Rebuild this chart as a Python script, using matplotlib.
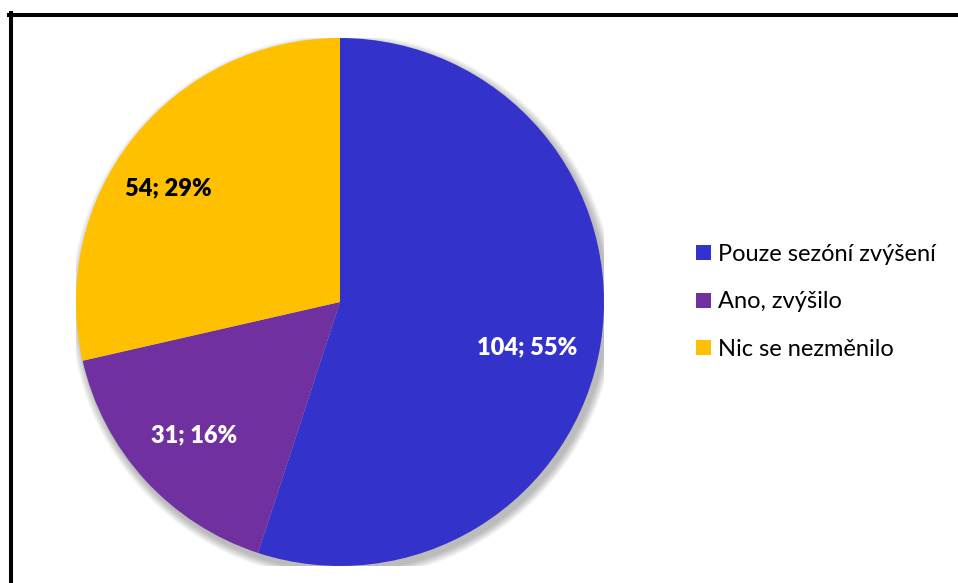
import numpy as np
import matplotlib
matplotlib.use('Agg')
import matplotlib.pyplot as plt
import matplotlib.patches as mpatches
from matplotlib.lines import Line2D

plt.rcParams['font.family'] = ['Lato', 'DejaVu Sans']

# ---- data ----
categories = ['Pouze sezóní zvýšení', 'Ano, zvýšilo', 'Nic se nezměnilo']
counts = [104, 31, 54]
colors = ['#3333CC', '#7030A0', '#FFC000']
label_colors = ['white', 'white', 'black']
label_dist = [0.73, 0.75, 0.78]      # radial position of each data label
label_shift = [-4.5, 0.0, 5.0]       # small angular tweak (deg), excel "best fit"

W, H = 958, 583
fig = plt.figure(figsize=(W / 100, H / 100), dpi=100)

# pie centre (340, 302) px, radius 264 px
cx, cy, r = 340, 302, 264
ax = fig.add_axes([(cx - r) / W, (H - cy - r) / H, 2 * r / W, 2 * r / H])

# soft drop shadow
for k in range(8):
    ax.add_patch(mpatches.Circle((0.012, -0.018), 1.0 + 0.004 * (8 - k),
                                 facecolor='black', edgecolor='none',
                                 alpha=0.035, zorder=0))

wedges, _ = ax.pie(counts, colors=colors, startangle=90, counterclock=False,
                   wedgeprops=dict(linewidth=0, zorder=1))

total = sum(counts)
for w, n, c, d, s in zip(wedges, counts, label_colors, label_dist, label_shift):
    ang = np.deg2rad((w.theta1 + w.theta2) / 2 + s)
    ax.text(d * np.cos(ang), d * np.sin(ang), f'{n}; {round(100 * n / total)}%',
            ha='center', va='center', fontsize=17, fontweight='heavy', color=c,
            zorder=3)

ax.set_xlim(-1, 1)
ax.set_ylim(-1, 1)
ax.set_aspect('equal')
ax.axis('off')

# legend
handles = [mpatches.Patch(facecolor=col, edgecolor='none', label=lab)
           for col, lab in zip(colors, categories)]
fig.legend(handles=handles, loc='center left', bbox_to_anchor=(696 / W, 1 - 302 / H),
           frameon=False, fontsize=17, handlelength=0.62, handleheight=0.62,
           handletextpad=0.3, labelspacing=1.12, borderaxespad=0, borderpad=0)

# chart frame (only left/top visible in the crop)
fig.add_artist(Line2D([10.5 / W, 10.5 / W], [0, 1 - 13 / H], color='black',
                      linewidth=2.9, transform=fig.transFigure))
fig.add_artist(Line2D([9 / W, 1], [1 - 14.5 / H, 1 - 14.5 / H], color='black',
                      linewidth=2.9, transform=fig.transFigure))

fig.savefig('out.png', dpi=100)
